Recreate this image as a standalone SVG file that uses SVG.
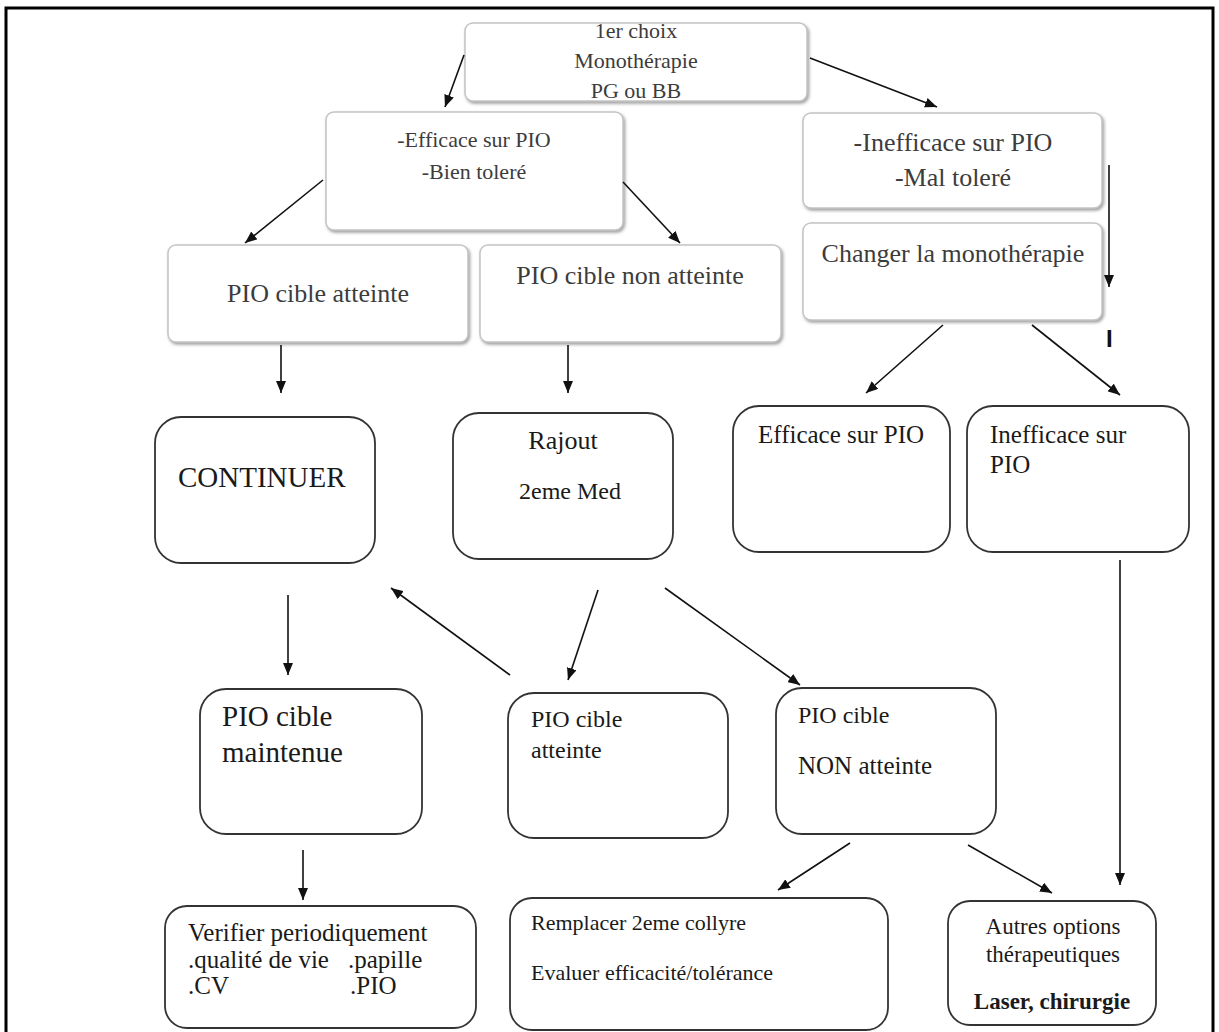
<svg xmlns="http://www.w3.org/2000/svg" width="1219" height="1032" viewBox="0 0 1219 1032">
<defs>
  <filter id="sh" x="-5%" y="-5%" width="110%" height="115%">
    <feDropShadow dx="1.5" dy="2" stdDeviation="1.5" flood-color="#8a8a8a" flood-opacity="0.8"/>
  </filter>
  <marker id="ah" viewBox="0 0 12 10" refX="12" refY="5" markerWidth="12" markerHeight="10" markerUnits="userSpaceOnUse" orient="auto">
    <path d="M0,0 L12,5 L0,10 z" fill="#111"/>
  </marker>
</defs>
<style>
  .soft{fill:#fff;stroke:#c4c4c4;stroke-width:1.5;filter:url(#sh)}
  .hard{fill:#fff;stroke:#333;stroke-width:1.8}
  .ts{font-family:"Liberation Serif","Times New Roman",serif;fill:#3c3c3c}
  .th{font-family:"Liberation Serif","Times New Roman",serif;fill:#1a1a1a}
  .c{text-anchor:middle}
  .conn line{stroke:#111;stroke-width:1.6;marker-end:url(#ah)}
</style>
<rect x="0" y="0" width="1219" height="1032" fill="#fff"/>
<rect x="6" y="8" width="1207" height="1040" fill="none" stroke="#000" stroke-width="3"/>

<g id="n-top">
  <rect class="soft" x="465" y="23" width="342" height="78" rx="8"/>
  <text class="ts c" x="636" y="38" font-size="22">1er choix</text>
  <text class="ts c" x="636" y="68" font-size="22">Monothérapie</text>
  <text class="ts c" x="636" y="98" font-size="22">PG ou BB</text>
</g>
<g id="n-efficace">
  <rect class="soft" x="326" y="112" width="297" height="118" rx="8"/>
  <text class="ts c" x="474" y="147" font-size="22">-Efficace sur PIO</text>
  <text class="ts c" x="474" y="179" font-size="22">-Bien toleré</text>
</g>
<g id="n-inefficace">
  <rect class="soft" x="803" y="113" width="299" height="95" rx="8"/>
  <text class="ts c" x="953" y="151" font-size="26">-Inefficace sur PIO</text>
  <text class="ts c" x="953" y="186" font-size="26">-Mal toleré</text>
</g>
<g id="n-changer">
  <rect class="soft" x="803" y="223" width="299" height="97" rx="8"/>
  <text class="ts c" x="953" y="262" font-size="26">Changer la monothérapie</text>
</g>
<g id="n-atteinte">
  <rect class="soft" x="168" y="245" width="300" height="97" rx="8"/>
  <text class="ts c" x="318" y="302" font-size="26">PIO cible atteinte</text>
</g>
<g id="n-non-atteinte">
  <rect class="soft" x="480" y="245" width="301" height="97" rx="8"/>
  <text class="ts c" x="630" y="284" font-size="26">PIO cible non atteinte</text>
</g>

<g id="n-continuer">
  <rect class="hard" x="155" y="417" width="220" height="146" rx="26"/>
  <text class="th" x="178" y="487" font-size="29">CONTINUER</text>
</g>
<g id="n-rajout">
  <rect class="hard" x="453" y="413" width="220" height="146" rx="26"/>
  <text class="th c" x="563" y="449" font-size="26">Rajout</text>
  <text class="th c" x="570" y="499" font-size="24">2eme Med</text>
</g>
<g id="n-efficace2">
  <rect class="hard" x="733" y="406" width="217" height="146" rx="26"/>
  <text class="th" x="758" y="443" font-size="25">Efficace sur PIO</text>
</g>
<g id="n-inefficace2">
  <rect class="hard" x="967" y="406" width="222" height="146" rx="26"/>
  <text class="th" x="990" y="443" font-size="25">Inefficace sur</text>
  <text class="th" x="990" y="473" font-size="25">PIO</text>
</g>

<g id="n-maintenue">
  <rect class="hard" x="200" y="689" width="222" height="145" rx="26"/>
  <text class="th" x="222" y="726" font-size="29">PIO cible</text>
  <text class="th" x="222" y="762" font-size="29">maintenue</text>
</g>
<g id="n-atteinte2">
  <rect class="hard" x="508" y="693" width="220" height="145" rx="26"/>
  <text class="th" x="531" y="727" font-size="24">PIO cible</text>
  <text class="th" x="531" y="758" font-size="24">atteinte</text>
</g>
<g id="n-non-atteinte2">
  <rect class="hard" x="776" y="688" width="220" height="146" rx="26"/>
  <text class="th" x="798" y="723" font-size="24">PIO cible</text>
  <text class="th" x="798" y="774" font-size="25">NON atteinte</text>
</g>

<g id="n-verifier">
  <rect class="hard" x="165" y="906" width="311" height="122" rx="22"/>
  <text class="th" x="188" y="941" font-size="25">Verifier periodiquement</text>
  <text class="th" x="188" y="968" font-size="25">.qualité de vie</text>
  <text class="th" x="348" y="968" font-size="25">.papille</text>
  <text class="th" x="188" y="994" font-size="25">.CV</text>
  <text class="th" x="350" y="994" font-size="25">.PIO</text>
</g>
<g id="n-remplacer">
  <rect class="hard" x="510" y="898" width="378" height="132" rx="22"/>
  <text class="th" x="531" y="930" font-size="22">Remplacer 2eme collyre</text>
  <text class="th" x="531" y="980" font-size="22">Evaluer efficacité/tolérance</text>
</g>
<g id="n-autres">
  <rect class="hard" x="948" y="901" width="208" height="124" rx="22"/>
  <text class="th c" x="1053" y="934" font-size="23">Autres options</text>
  <text class="th c" x="1053" y="962" font-size="23">thérapeutiques</text>
  <text class="th c" x="1052" y="1009" font-size="23" font-weight="bold">Laser, chirurgie</text>
</g>

<text x="1106" y="347" font-family="Liberation Sans, Arial, sans-serif" font-size="24" font-weight="bold" fill="#111">I</text>

<g id="connectors" class="conn">
  <line x1="464" y1="55" x2="445" y2="107"/>
  <line x1="810" y1="58" x2="937" y2="107"/>
  <line x1="323" y1="180" x2="245" y2="243"/>
  <line x1="623" y1="182" x2="680" y2="243"/>
  <line x1="1109" y1="165" x2="1109" y2="287"/>
  <line x1="281" y1="345" x2="281" y2="393"/>
  <line x1="568" y1="345" x2="568" y2="393"/>
  <line x1="943" y1="325" x2="866" y2="393"/>
  <line x1="1032" y1="325" x2="1120" y2="395"/>
  <line x1="288" y1="595" x2="288" y2="675"/>
  <line x1="510" y1="675" x2="391" y2="588"/>
  <line x1="598" y1="590" x2="568" y2="680"/>
  <line x1="665" y1="588" x2="800" y2="685"/>
  <line x1="1120" y1="560" x2="1120" y2="885"/>
  <line x1="303" y1="850" x2="303" y2="900"/>
  <line x1="850" y1="843" x2="778" y2="890"/>
  <line x1="968" y1="845" x2="1052" y2="893"/>
</g>
</svg>
